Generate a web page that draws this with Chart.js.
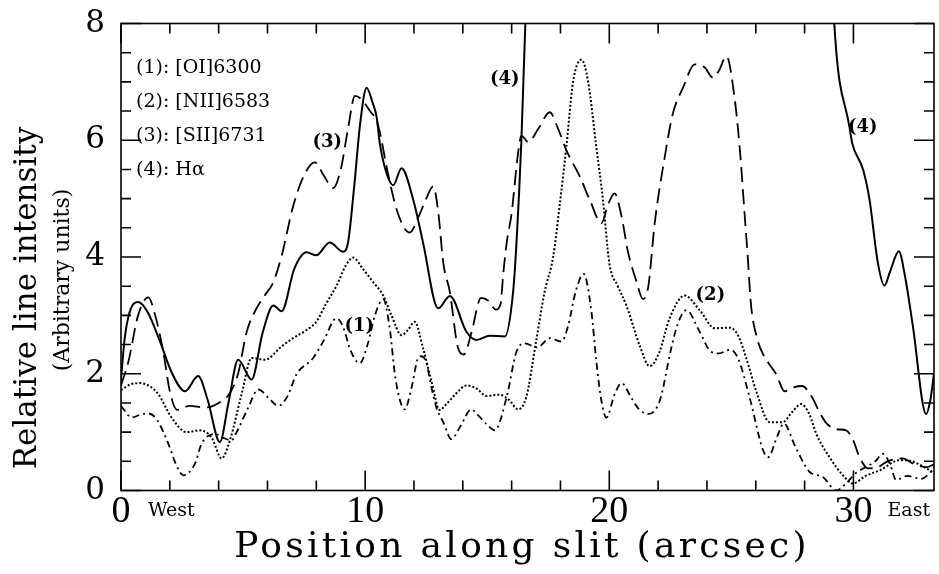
<!DOCTYPE html>
<html>
<head>
<meta charset="utf-8">
<script src="https://cdn.jsdelivr.net/npm/chart.js@4.4.0/dist/chart.umd.min.js"></script>
<style>
    html, body { margin: 0; padding: 0; background: #fff; }
    #wrap { width: 939px; height: 574px; }
</style>
</head>
<body>
<div id="wrap"><canvas id="slitChart" width="939" height="574"></canvas></div>
<script>
// line names, in the order of the legend
const lineNames = ["[OI]6300", "[NII]6583", "[SII]6731", "Hα"];

// (1) [OI]6300 -- dash-dot
const oiPos = [0, 0.44, 0.8, 1.12, 1.46, 1.94, 2.25, 2.55, 3.03, 3.3, 3.85, 4.2, 4.53, 4.74, 5.21, 5.62, 6.1, 6.44, 6.8, 7.19,
    7.87, 8.28, 8.83, 9.1, 9.4, 9.78, 10.1, 10.4, 10.74, 11.0, 11.25, 11.62, 11.9, 12.17, 12.3, 12.5, 12.72, 12.92, 13.2, 13.53,
    13.9, 14.35, 14.6, 14.97, 15.31, 15.79, 16.2, 16.54, 17.05, 17.56, 18.04, 18.3, 18.65, 18.95, 19.27, 19.47, 19.68, 19.88, 20.22, 20.5,
    20.9, 21.2, 21.58, 22.06, 22.54, 22.8, 23.16, 23.7, 24.16, 24.5, 24.93, 25.27, 25.75, 26.3, 26.5, 26.9, 27.15, 27.6, 28.2, 28.75,
    29.3, 29.7, 30.1, 30.5, 30.9, 31.2, 31.5, 31.75, 32.2, 32.77, 33.25];
const oiVal = [1.45, 1.25, 1.3, 1.32, 1.22, 0.8, 0.45, 0.26, 0.46, 0.8, 0.97, 0.9, 0.86, 1.0, 1.42, 1.73, 1.56, 1.45, 1.6, 1.99,
    2.27, 2.55, 2.95, 2.8, 2.4, 2.18, 2.5, 3.0, 3.28, 2.8, 1.9, 1.39, 1.76, 2.27, 2.3, 2.2, 1.76, 1.42, 1.17, 0.88,
    1.1, 1.39, 1.3, 1.14, 1.03, 1.59, 2.38, 2.52, 2.45, 2.61, 2.55, 2.8, 3.45, 3.71, 3.06, 2.21, 1.53, 1.25, 1.65, 1.84,
    1.59, 1.4, 1.31, 1.53, 2.44, 2.85, 3.09, 2.72, 2.38, 2.35, 2.41, 2.27, 1.59, 0.69, 0.57, 0.95, 1.15, 0.77, 0.32, 0.23,
    0.0, 0.12, 0.3, 0.4, 0.5, 0.63, 0.45, 0.18, 0.25, 0.2, 0.35];

// (2) [NII]6583 -- dotted
const niiPos = [0, 0.4, 0.78, 1.2, 1.53, 2.07, 2.69, 3.23, 3.71, 4.12, 4.46, 4.94, 5.35, 5.9, 6.58, 7.05, 7.6, 8.0, 8.4, 8.83,
    9.2, 9.51, 9.9, 10.33, 10.74, 11.08, 11.49, 11.75, 12.03, 12.37, 12.72, 13.05, 13.33, 13.7, 14.15, 14.55, 14.97, 15.5, 15.9, 16.26,
    16.6, 17.0, 17.35, 17.7, 18.0, 18.24, 18.52, 18.86, 19.13, 19.47, 19.74, 20.0, 20.35, 20.7, 21.24, 21.65, 22.06, 22.47, 23.09, 23.7,
    24.32, 24.93, 25.27, 25.61, 26.02, 26.57, 27.1, 27.5, 27.86, 28.2, 28.48, 29.02, 29.57, 29.98, 30.5, 31.1, 31.9, 32.4, 33.1, 33.3];
const niiVal = [1.72, 1.82, 1.84, 1.78, 1.65, 1.25, 1.0, 1.03, 0.91, 0.55, 0.86, 1.65, 2.27, 2.24, 2.47, 2.61, 2.75, 2.89, 3.2, 3.51,
    3.85, 3.99, 3.8, 3.57, 3.34, 3.0, 2.66, 2.75, 2.89, 2.44, 1.87, 1.38, 1.48, 1.65, 1.8, 1.75, 1.62, 1.64, 1.55, 1.39,
    1.6, 2.55, 3.4, 4.0, 5.0, 5.88, 7.01, 7.38, 7.01, 5.88, 4.98, 3.9, 3.5, 3.17, 2.49, 2.13, 2.38, 2.95, 3.34, 3.09,
    2.78, 2.79, 2.66, 2.27, 1.70, 1.17, 1.17, 1.35, 1.48, 1.3, 0.97, 0.57, 0.26, 0.12, 0.25, 0.35, 0.52, 0.5, 0.35, 0.3];

// (3) [SII]6731 -- long dashes
const siiPos = [0, 0.3, 0.7, 1.12, 1.4, 1.73, 2.0, 2.3, 2.8, 3.44, 4.0, 4.46, 4.8, 5.15, 5.55, 5.9, 6.24, 6.58, 7.05, 7.5,
    7.94, 8.3, 8.69, 9.0, 9.3, 9.58, 9.85, 10.2, 10.5, 11.0, 11.3, 11.6, 11.83, 12.2, 12.5, 12.79, 13.0, 13.2, 13.47, 13.8,
    14.05, 14.35, 14.75, 15.05, 15.35, 15.55, 15.65, 15.8, 16.0, 16.26, 16.4, 16.68, 17.1, 17.56, 17.9, 18.24, 18.79, 19.2, 19.68, 19.95,
    20.22, 20.5, 20.77, 21.1, 21.38, 21.6, 21.86, 22.27, 22.6, 23.02, 23.5, 23.9, 24.25, 24.5, 24.8, 25.13, 25.34, 25.54, 25.68, 25.8,
    26.02, 26.3, 26.56, 26.84, 27.18, 27.5, 27.9, 28.3, 28.6, 28.9, 29.3, 29.7, 30.0, 30.25, 30.6, 31.0, 31.4, 32.0, 32.5, 33.0, 33.3];
const siiVal = [1.8, 2.2, 3.0, 3.31, 3.0, 2.38, 1.7, 1.38, 1.45, 1.42, 1.5, 1.67, 2.01, 2.72, 3.12, 3.35, 3.57, 4.02, 4.87, 5.4,
    5.62, 5.4, 5.18, 5.5, 6.2, 6.76, 6.7, 6.5, 6.3, 5.3, 4.8, 4.5, 4.42, 4.7, 5.0, 5.21, 4.75, 3.9, 3.4, 2.45,
    2.33, 2.7, 3.3, 3.25, 3.1, 3.2, 3.68, 4.25, 4.75, 5.77, 6.08, 5.97, 6.2, 6.48, 6.2, 5.83, 5.38, 4.98, 4.58, 4.9,
    5.09, 4.7, 4.08, 3.6, 3.28, 3.5, 4.58, 5.71, 6.45, 6.9, 7.3, 7.25, 7.07, 7.2, 7.44, 6.73, 5.88, 4.75, 3.95, 3.2,
    2.66, 2.33, 2.16, 1.99, 1.7, 1.76, 1.79, 1.6, 1.35, 1.15, 1.05, 1.03, 0.85, 0.57, 0.38, 0.4, 0.5, 0.55, 0.45, 0.4, 0.45];

// (4) H-alpha -- solid, runs off the top between ~16.6 and ~29.2 (null = gap)
const haPos = [0, 0.15, 0.35, 0.71, 1.1, 1.6, 2.1, 2.62, 3.16, 3.55, 4.05, 4.4, 4.8, 5.35, 5.8, 6.24, 6.58, 7.1, 7.6, 8.0,
    8.55, 9.1, 9.3, 9.55, 9.8, 10.06, 10.3, 10.47, 10.6, 10.88, 11.15, 11.49, 11.97, 12.37, 12.99, 13.47, 14.15, 14.56, 15.1, 15.72,
    16.06, 16.2, 16.4, 16.56, 16.64, 23.0, 29.16, 29.22, 29.84, 29.95, 30.4, 30.66, 31.0, 31.27, 31.5, 31.86, 32.1, 32.43, 32.98, 33.15,
    33.3];
const haVal = [1.9, 2.6, 3.05, 3.23, 3.05, 2.55, 2.0, 1.7, 1.96, 1.55, 0.83, 1.5, 2.24, 1.9, 2.7, 3.17, 3.07, 3.8, 4.08, 4.03,
    4.25, 4.09, 4.25, 5.2, 6.3, 6.9, 6.65, 6.4, 5.95, 5.43, 5.23, 5.52, 4.98, 4.25, 3.12, 3.33, 2.72, 2.58, 2.65, 2.64,
    3.4, 4.25, 6.0, 7.97, 8.6, null, 8.6, 7.97, 6.22, 5.95, 5.49, 4.98, 3.9, 3.51, 3.75, 4.1, 3.7, 2.83, 1.31, 1.55,
    2.0];

// axis labels
const xLabelValues = [0, 10, 20, 30];
const yLabelValues = [0, 2, 4, 6, 8];

// curve tags written next to the lines (data coordinates)
const tagText = ["(1)", "(2)", "(3)", "(4)", "(4)"];
const tagX = [9.76, 24.14, 8.45, 15.72, 30.38];
const tagY = [2.82, 3.34, 5.97, 7.04, 6.22];

function toPoints(pos, val) {
    return pos.map((x, i) => ({ x: x, y: val[i] }));
}

function isOneOf(v, list) {
    return list.some(l => Math.abs(l - v) < 1e-6);
}

const decorPlugin = {
    id: "decor",
    afterDatasetsDraw(chart) {
        const { ctx, chartArea: a, scales: { x, y } } = chart;
        ctx.save();
        ctx.strokeStyle = "#000";
        ctx.lineWidth = 1.6;
        ctx.setLineDash([]);
        ctx.strokeRect(a.left, a.top, a.right - a.left, a.bottom - a.top);

        ctx.beginPath();
        x.ticks.forEach(t => {
            if (Math.abs(t.value / 2 - Math.round(t.value / 2)) > 1e-6) return;
            const px = x.getPixelForValue(t.value);
            const len = isOneOf(t.value % 10, [0]) ? 20 : 10;
            ctx.moveTo(px, a.bottom); ctx.lineTo(px, a.bottom - len);
            ctx.moveTo(px, a.top); ctx.lineTo(px, a.top + len);
        });
        y.ticks.forEach(t => {
            const py = y.getPixelForValue(t.value);
            const len = isOneOf(t.value % 2, [0]) ? 20 : 10;
            ctx.moveTo(a.left, py); ctx.lineTo(a.left + len, py);
            ctx.moveTo(a.right, py); ctx.lineTo(a.right - len, py);
        });
        ctx.stroke();

        ctx.fillStyle = "#000";
        ctx.textBaseline = "middle";

        // x tick numbers
        ctx.textAlign = "center";
        ctx.font = '38px "Liberation Serif"';
        xLabelValues.forEach(v => {
            ctx.fillText(String(v), x.getPixelForValue(v), a.bottom + 22);
        });

        // legend text, top left
        ctx.textAlign = "left";
        ctx.font = '19px "DejaVu Serif"';
        chart.data.datasets.forEach((ds, i) => {
            ctx.fillText(`(${i + 1}): ${ds.label}`, a.left + 15, a.top + 45 + i * 34);
        });

        // tags beside the curves
        ctx.textAlign = "center";
        ctx.font = 'bold 18px "DejaVu Serif"';
        tagText.forEach((t, i) => {
            ctx.fillText(t, x.getPixelForValue(tagX[i]), y.getPixelForValue(tagY[i]));
        });

        // West / East under the axis
        ctx.textAlign = "left";
        ctx.font = '19px "DejaVu Serif"';
        ctx.fillText("West", x.getPixelForValue(0) + 27, a.bottom + 21);
        ctx.fillText("East", x.getPixelForValue(30) + 34, a.bottom + 21);

        // axis titles
        ctx.textAlign = "center";
        ctx.font = '36px "DejaVu Serif"';
        ctx.letterSpacing = "3.3px";
        ctx.fillText("Position along slit (arcsec)", 522, 548);
        ctx.letterSpacing = "0px";

        ctx.translate(28, 298);
        ctx.rotate(-Math.PI / 2);
        ctx.font = '31px "DejaVu Serif"';
        ctx.fillText("Relative line intensity", 0, 0);
        ctx.font = '22px "DejaVu Serif"';
        ctx.fillText("(Arbitrary units)", 18, 35);
        ctx.restore();
    }
};

const lineStyle = {
    borderColor: "#000",
    borderWidth: 1.8,
    pointRadius: 0,
    fill: false,
    spanGaps: false,
    cubicInterpolationMode: "monotone"
};

new Chart(document.getElementById("slitChart"), {
    type: "line",
    data: {
        datasets: [
            { ...lineStyle, label: lineNames[0], data: toPoints(oiPos, oiVal), borderDash: [7, 4, 2, 4] },
            { ...lineStyle, label: lineNames[1], data: toPoints(niiPos, niiVal), borderDash: [2, 2], borderWidth: 2 },
            { ...lineStyle, label: lineNames[2], data: toPoints(siiPos, siiVal), borderDash: [15, 7] },
            { ...lineStyle, label: lineNames[3], data: toPoints(haPos, haVal), borderWidth: 2 }
        ]
    },
    options: {
        responsive: false,
        animation: false,
        events: [],
        layout: { padding: { top: 18, right: 5, left: 0, bottom: 0 } },
        plugins: {
            legend: { display: false },
            tooltip: { enabled: false }
        },
        scales: {
            x: {
                type: "linear",
                min: 0,
                max: 33.3,
                border: { display: false },
                grid: { display: false },
                ticks: { stepSize: 2, autoSkip: false, maxRotation: 0, display: false },
                afterFit: s => { s.height = 83.5; }
            },
            y: {
                min: 0,
                max: 8,
                border: { display: false },
                grid: { display: false },
                ticks: {
                    stepSize: 0.5,
                    autoSkip: false,
                    padding: 8,
                    color: "#000",
                    font: { family: "DejaVu Serif", size: 31, lineHeight: 1 },
                    callback: v => isOneOf(v, yLabelValues) ? String(Math.round(v)) : ""
                },
                afterFit: s => { s.width = 121; }
            }
        }
    },
    plugins: [decorPlugin]
});
</script>
</body>
</html>
